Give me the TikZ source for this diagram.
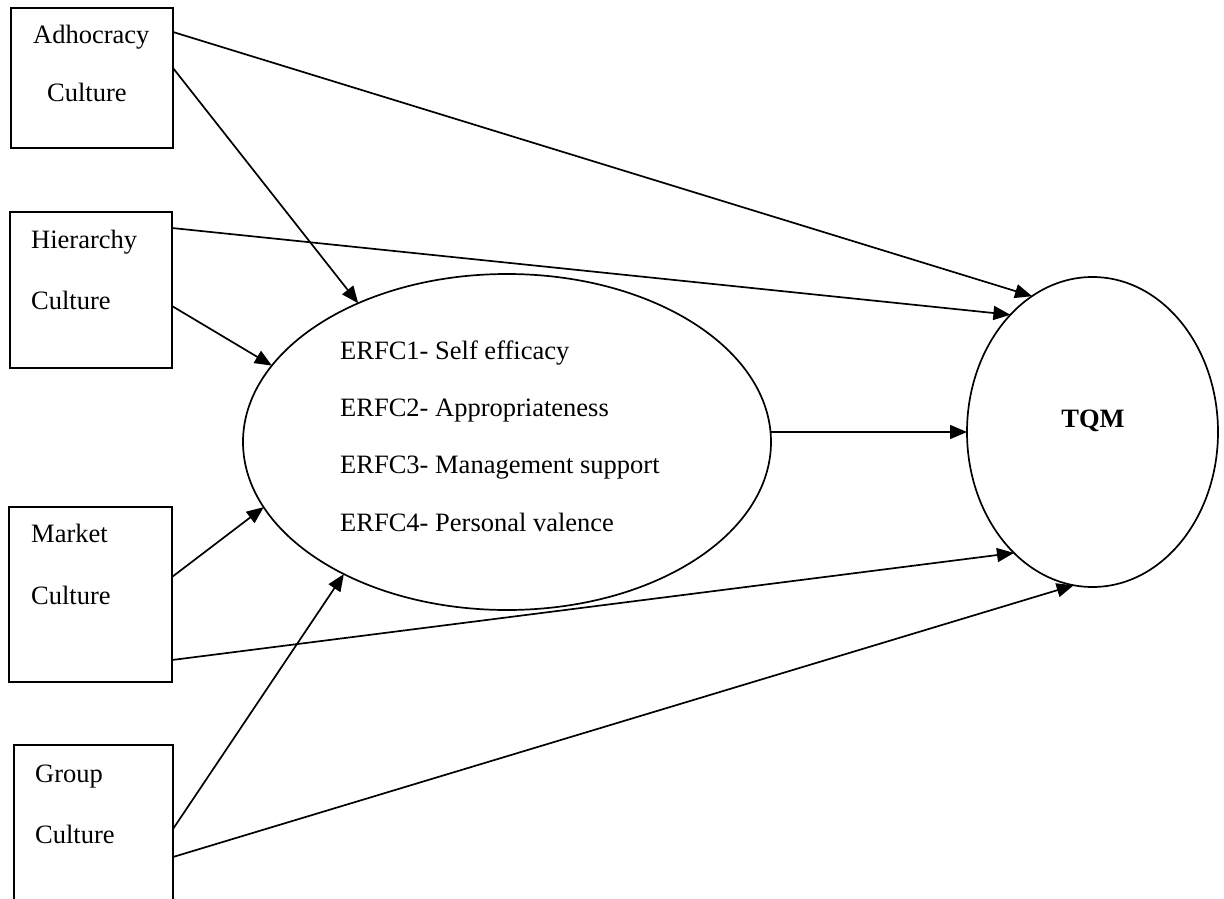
\documentclass[tikz,border=0pt]{standalone}
\usepackage{fontspec}
\setmainfont{Liberation Serif}
\usetikzlibrary{arrows.meta,shapes.geometric}
\begin{document}
\begin{tikzpicture}[x=1pt,y=-1pt,
  box/.style={draw,line width=1.7pt,rectangle,outer sep=0pt,inner sep=0pt,anchor=north west},
  txt/.style={inner sep=0pt,anchor=base west,font=\fontsize{26.5}{30}\selectfont},
  oval/.style={draw,line width=1.7pt,ellipse,inner sep=0pt,outer sep=0pt},
  arr/.style={line width=1.7pt,-{Triangle[length=17pt,width=14pt]}}]
\useasboundingbox (0,0) rectangle (1224,899);
% boxes
\node[box,minimum width=162pt,minimum height=140pt] (adh) at (11,8) {};
\node[box,minimum width=162pt,minimum height=156pt] (hie) at (10,212) {};
\node[box,minimum width=163pt,minimum height=175pt] (mar) at (9,507) {};
\node[box,minimum width=159pt,minimum height=170pt] (gro) at (14,745) {};
% box texts
\node[txt] (adh1) at (33,44) {Adhocracy};
\node[txt] (adh2) at (47,102) {Culture};
\node[txt] (hie1) at (31,248) {Hierarchy};
\node[txt] (hie2) at (31,309) {Culture};
\node[txt] (mar1) at (31,542) {Market};
\node[txt] (mar2) at (31,604) {Culture};
\node[txt] (gro1) at (35,782) {Group};
\node[txt] (gro2) at (35,843) {Culture};
% ellipses
\node[oval,minimum width=528pt,minimum height=336pt] (erfc) at (507,442) {};
\node[oval,minimum width=251pt,minimum height=310pt] (tqm) at (1092.5,432) {};
\node[txt] (e1) at (340,359) {ERFC1- Self efficacy};
\node[txt] (e2) at (340,416) {ERFC2- Appropriateness};
\node[txt] (e3) at (340,473) {ERFC3- Management support};
\node[txt] (e4) at (340,531) {ERFC4- Personal valence};
\node[txt,anchor=base,font=\fontsize{26.5}{30}\selectfont\bfseries] (tqmt) at (1093,427) {TQM};
% connectors
\draw[arr] ([yshift=-24pt]adh.north east) -- (tqm.114.2);
\draw[arr] ([yshift=-60pt]adh.north east) -- (erfc.137.9);
\draw[arr] ([yshift=-16pt]hie.north east) -- (tqm.125.2);
\draw[arr] ([yshift=-94pt]hie.north east) -- (erfc.162.1);
\draw[arr] ([yshift=-70pt]mar.north east) -- (erfc.195);
\draw[arr] ([yshift=-153pt]mar.north east) -- (tqm.237.8);
\draw[arr] ([yshift=-84pt]gro.north east) -- (erfc.219.1);
\draw[arr] ([yshift=-112pt]gro.north east) -- (tqm.263.7);
\draw[arr] (erfc.east |- tqm.west) -- (tqm.west);
\end{tikzpicture}
\end{document}
